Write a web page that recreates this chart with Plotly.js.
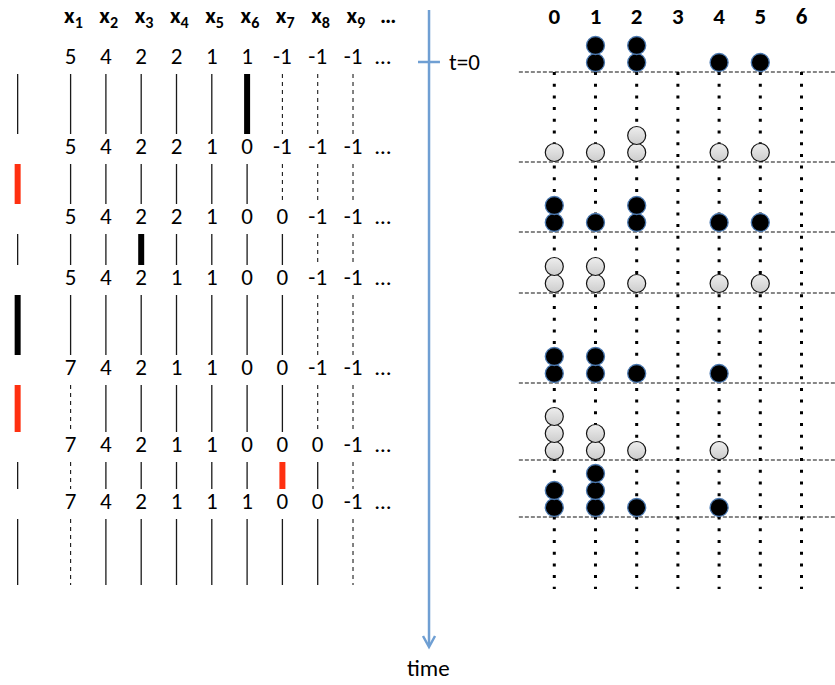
<!DOCTYPE html>
<html>
<head>
<meta charset="utf-8">
<script src="https://cdn.plot.ly/plotly-3.0.1.min.js"></script>
<style>html,body{margin:0;padding:0;background:#fff;}#chart{width:835px;height:685px;}</style>
</head>
<body>
<div id="chart"></div>
<script>
// ---------------- data ----------------
const columns = [1, 2, 3, 4, 5, 6, 7, 8, 9];
const columnLabels = ['x<sub>1</sub>', 'x<sub>2</sub>', 'x<sub>3</sub>', 'x<sub>4</sub>', 'x<sub>5</sub>',
                      'x<sub>6</sub>', 'x<sub>7</sub>', 'x<sub>8</sub>', 'x<sub>9</sub>', '…'];
const row0 = [5, 4, 2, 2, 1, 1, -1, -1, -1];
const row1 = [5, 4, 2, 2, 1, 0, -1, -1, -1];
const row2 = [5, 4, 2, 2, 1, 0, 0, -1, -1];
const row3 = [5, 4, 2, 1, 1, 0, 0, -1, -1];
const row4 = [7, 4, 2, 1, 1, 0, 0, -1, -1];
const row5 = [7, 4, 2, 1, 1, 0, 0, 0, -1];
const row6 = [7, 4, 2, 1, 1, 1, 0, 0, -1];
const rows = [row0, row1, row2, row3, row4, row5, row6];
const eventTimes = [0, 0.90, 1.60, 2.21, 3.11, 3.88, 4.45];
const endTime = 5.23;
// clock that rang in each interval (0 = the extra clock on the far left)
const eventClock = [6, 0, 3, 0, 0, 7, null];
const eventSign = [-1, 1, -1, -1, 1, 1, 0];
const sites = [0, 1, 2, 3, 4, 5, 6];
const siteLabels = ['0', '1', '2', '3', '4', '5', '6'];
const siteMin = 0, siteMax = 6;

// ---------------- styles ----------------
const FONT = 'Carlito, Lato, "Open Sans", sans-serif';
const TXT = 23;
const LEFT_CLOCK_POS = -0.5;
const GAP_TOP = 0.16, GAP_BOT = 0.14;
const LINE_OFF = 0.10;          // right panel baseline below event time
const STACK0 = 0.095, STACK = 0.17;
const ROW_SHIFT = -0.04;        // numbers sit slightly above the event time

// ---------------- left panel segments ----------------
const segs = {thin: {x: [], y: []}, dashed: {x: [], y: []}, black: {x: [], y: []}, red: {x: [], y: []}};
function addSeg(kind, xi, t0, t1) { segs[kind].x.push(xi, xi, null); segs[kind].y.push(t0, t1, null); }
for (let k = 0; k < rows.length; k++) {
  const t0 = eventTimes[k] + ROW_SHIFT + GAP_TOP;
  const t1 = k < rows.length - 1 ? eventTimes[k + 1] + ROW_SHIFT - GAP_BOT : endTime;
  const hot = eventSign[k] < 0 ? 'black' : 'red';
  addSeg(eventClock[k] === 0 ? hot : 'thin', LEFT_CLOCK_POS, t0, t1);
  columns.forEach((c, i) => {
    const v = rows[k][i];
    let kind = (v < siteMin || v > siteMax) ? 'dashed' : 'thin';
    if (eventClock[k] === c) kind = hot;
    addSeg(kind, c, t0, t1);
  });
}
const segStyle = {
  thin: {color: '#1a1a1a', width: 1.3},
  dashed: {color: '#1a1a1a', width: 1.1, dash: '4px,4px'},
  black: {color: '#000000', width: 6},
  red: {color: '#ff3010', width: 6}
};
const traces = [];
Object.keys(segs).forEach(kind => {
  traces.push({type: 'scatter', mode: 'lines', x: segs[kind].x, y: segs[kind].y, xaxis: 'x', yaxis: 'y',
    line: segStyle[kind], hoverinfo: 'skip'});
});

// numbers
const nx = [], ny = [], nt = [];
rows.forEach((r, k) => {
  r.forEach((v, i) => { nx.push(columns[i]); ny.push(eventTimes[k] + ROW_SHIFT); nt.push(String(v)); });
  nx.push(9.85); ny.push(eventTimes[k] + ROW_SHIFT); nt.push('…');
});
traces.push({type: 'scatter', mode: 'text', x: nx, y: ny, text: nt, xaxis: 'x', yaxis: 'y',
  textfont: {family: FONT, size: TXT, color: '#000'}, cliponaxis: false, hoverinfo: 'skip'});
// headers
traces.push({type: 'scatter', mode: 'text', x: columns.map(c => c + 0.08).concat([10.0]), y: columnLabels.map(() => -0.45),
  text: columnLabels, xaxis: 'x', yaxis: 'y',
  textfont: {family: FONT, size: TXT, color: '#000', weight: 'bold'}, cliponaxis: false, hoverinfo: 'skip'});

// ---------------- right panel ----------------
const hx = [], hy = [];
eventTimes.forEach(t => { hx.push(-0.86, 7.5, null); hy.push(t + LINE_OFF, t + LINE_OFF, null); });
traces.push({type: 'scatter', mode: 'lines', x: hx, y: hy, xaxis: 'x2', yaxis: 'y',
  line: {color: '#111', width: 1.2, dash: '4px,2px'}, hoverinfo: 'skip'});
const vx = [], vy = [];
sites.forEach(s => { vx.push(s, s, null); vy.push(eventTimes[0] + LINE_OFF, endTime + 0.04, null); });
traces.push({type: 'scatter', mode: 'lines', x: vx, y: vy, xaxis: 'x2', yaxis: 'y',
  line: {color: '#000', width: 3, dash: '3px,8.7px'}, hoverinfo: 'skip'});

const bx = [], by = [], gx = [], gy = [];
rows.forEach((r, k) => {
  sites.forEach(s => {
    const n = r.filter(v => v === s).length;
    for (let m = 0; m < n; m++) {
      const y = eventTimes[k] + LINE_OFF - STACK0 - STACK * m;
      if (k % 2 === 0) { bx.push(s); by.push(y); } else { gx.push(s); gy.push(y); }
    }
  });
});
traces.push({type: 'scatter', mode: 'markers', x: gx, y: gy, xaxis: 'x2', yaxis: 'y', cliponaxis: false,
  marker: {size: 18, color: '#eeeeee', gradient: {type: 'vertical', color: '#cccccc'}, line: {color: '#111', width: 1.2}}, hoverinfo: 'skip'});
traces.push({type: 'scatter', mode: 'markers', x: bx, y: by, xaxis: 'x2', yaxis: 'y', cliponaxis: false,
  marker: {size: 18, color: '#000', line: {color: '#4a78b0', width: 1.3}}, hoverinfo: 'skip'});
traces.push({type: 'scatter', mode: 'text', x: sites, y: sites.map(() => -0.44), text: siteLabels,
  xaxis: 'x2', yaxis: 'y', textfont: {family: FONT, size: TXT, color: '#000', weight: 'bold'}, cliponaxis: false, hoverinfo: 'skip'});

// ---------------- layout ----------------
const ARROW_X = 0.5138, BLUE = '#6f9fd3';
const layout = {
  width: 835, height: 685, margin: {l: 0, r: 0, t: 0, b: 0}, showlegend: false,
  paper_bgcolor: '#fff', plot_bgcolor: '#fff',
  xaxis: {domain: [0, 0.5], range: [-1.0, 10.827], visible: false, fixedrange: true},
  xaxis2: {domain: [0.5, 1], range: [-3.32, 6.813], visible: false, anchor: 'y', fixedrange: true},
  yaxis: {domain: [0, 1], range: [6.23, -0.62], visible: false, fixedrange: true},
  shapes: [
    {type: 'line', xref: 'paper', yref: 'y', x0: ARROW_X, x1: ARROW_X, y0: -0.52, y1: 5.84, line: {color: BLUE, width: 2.5}},
    {type: 'line', xref: 'paper', yref: 'y', x0: 0.5006, x1: 0.5269, y0: 0, y1: 0, line: {color: BLUE, width: 2.5}},
    {type: 'path', xref: 'paper', yref: 'y', path: 'M0.5066,5.74 L' + ARROW_X + ',5.85 L0.521,5.74', line: {color: BLUE, width: 2.5}}
  ],
  annotations: [
    {xref: 'paper', yref: 'y', x: 0.5557, y: 0, text: 't=0', showarrow: false, font: {family: FONT, size: TXT, color: '#000'}},
    {xref: 'paper', yref: 'y', x: 0.5126, y: 6.06, text: 'time', showarrow: false, font: {family: FONT, size: TXT, color: '#000'}}
  ]
};
Plotly.newPlot('chart', traces, layout, {displayModeBar: false, staticPlot: true});
</script>
</body>
</html>
